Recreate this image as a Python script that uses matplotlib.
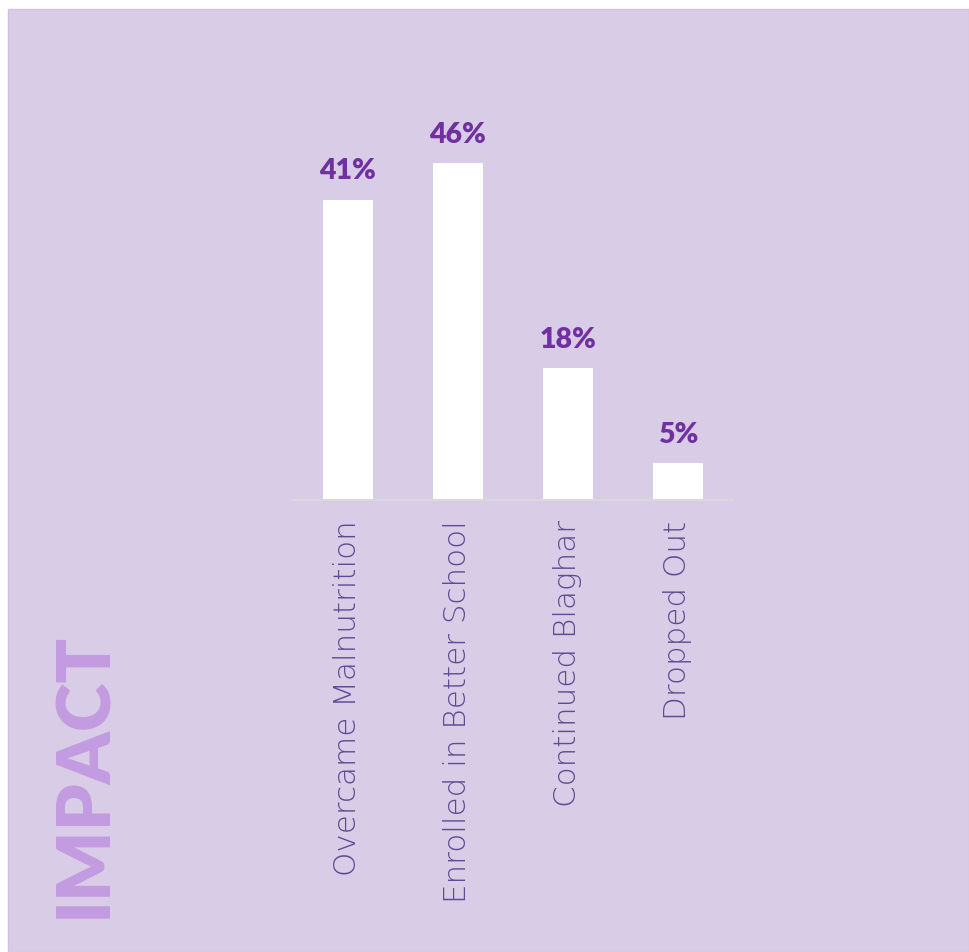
import matplotlib.pyplot as plt
from matplotlib.patches import Rectangle

categories = ['Overcame Malnutrition', 'Enrolled in Better School',
              'Continued Blaghar', 'Dropped Out']
values = [41, 46, 18, 5]
value_labels = ['41%', '46%', '18%', '5%']

BG = '#D9CCE6'
BAR_LABEL = '#7030A0'
TICK_COLOR = '#5E4A93'
TITLE_COLOR = '#C39BE0'

W, H = 969, 953
fig = plt.figure(figsize=(W / 100, H / 100), dpi=100, facecolor='white')

# lavender panel, kept behind the axes
fig.patches.append(Rectangle((8 / W, 0), 1 - 8 / W, 1 - 10 / H,
                             transform=fig.transFigure, facecolor=BG,
                             edgecolor='#CFC2DE', linewidth=1, zorder=-10))

ax = fig.add_axes([293 / W, 1 - 501 / H, 440 / W, 366 / H])
ax.set_facecolor('none')
x = range(len(categories))
bars = ax.bar(x, values, width=0.45, color='white', zorder=2)
ax.set_xlim(-0.5, len(categories) - 0.5)
ax.set_ylim(0, 50)

for bar, lab in zip(bars, value_labels):
    ax.annotate(lab, (bar.get_x() + bar.get_width() / 2, bar.get_height()),
                xytext=(0, 12), textcoords='offset points', ha='center',
                va='bottom', fontsize=20.5, fontweight='heavy',
                color=BAR_LABEL, family=['Lato', 'DejaVu Sans'],
                annotation_clip=False)

ax.set_xticks(list(x))
ax.set_xticklabels(categories, rotation=90, fontsize=22.3, color=TICK_COLOR,
                   family=['DejaVu Sans'], fontweight='light', va='top')
ax.tick_params(axis='x', length=0, pad=14)
ax.set_yticks([])
for side in ['top', 'right', 'left']:
    ax.spines[side].set_visible(False)
ax.spines['bottom'].set_color('#D9D9D9')
ax.spines['bottom'].set_linewidth(1.5)

fig.text(85 / W, 1 - 775 / H, 'IMPACT', rotation=90, ha='center',
         va='center', fontsize=53, fontweight='heavy', color=TITLE_COLOR,
         family=['Lato', 'DejaVu Sans'])

fig.savefig('out.png', dpi=100, facecolor='white')
